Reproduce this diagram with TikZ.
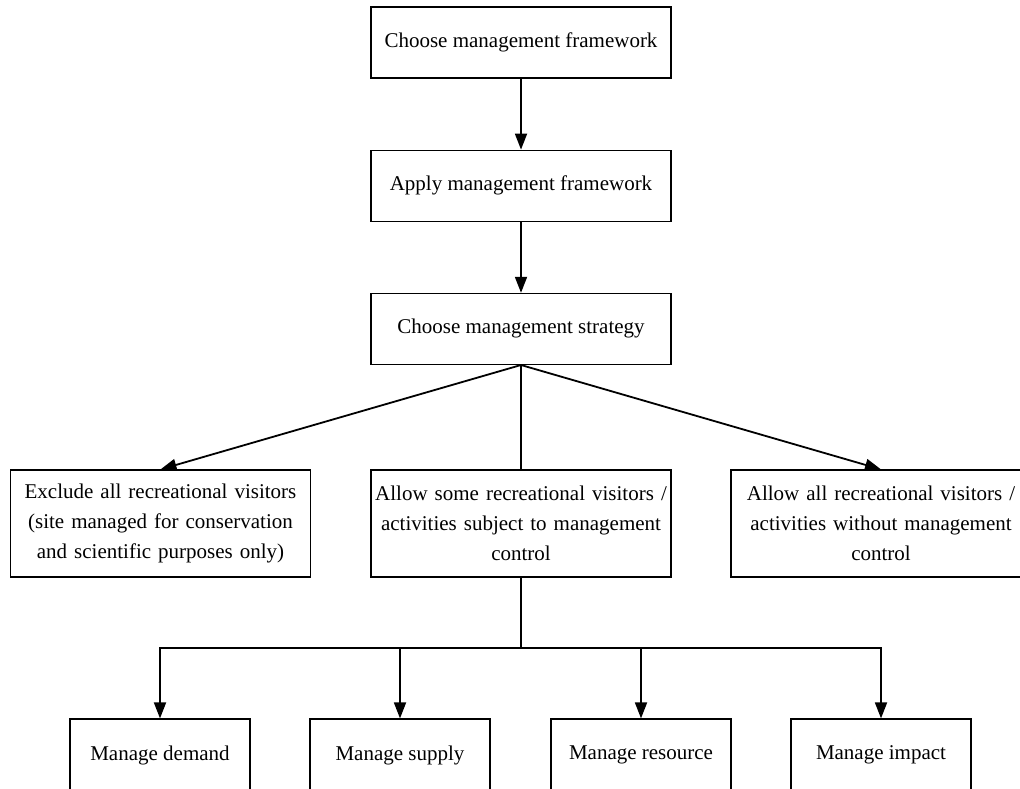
\documentclass[tikz,border=0pt]{standalone}
\usepackage{fontspec}
\setmainfont{Liberation Serif}
\usetikzlibrary{positioning,arrows.meta}
\tikzset{
  mgBox/.style={
    draw,
    line width=0.6pt,
    align=center,
    inner sep=2pt,
    font=\fontsize{10.5pt}{15pt}\selectfont
  },
  mgTop/.style={
    mgBox,
    minimum width=150pt,
    minimum height=35.5pt
  },
  mgOption/.style={
    mgBox,
    text width=146pt,
    minimum height=53.5pt
  },
  mgAction/.style={
    mgBox,
    minimum width=90pt,
    minimum height=36pt
  },
  mgLine/.style={
    line width=0.9pt
  },
  mgArrow/.style={
    mgLine,
    -{Triangle[width=6pt,length=8pt]}
  }
}
\begin{document}
\begin{tikzpicture}[x=0.5pt, y=-0.5pt, node distance=35.5pt]
  \useasboundingbox (0,0) rectangle (1020,788);

  % planning steps
  \node (choose) [mgTop] at (521,42.5) {Choose management framework};
  \node (apply) [mgTop, below=of choose] {Apply management framework};
  \node (strategy) [mgTop, below=of apply] {Choose management strategy};

  % strategy options
  \node (exclude) [mgOption] at (160.5,523.5) {
    Exclude all recreational visitors\\
    (site managed for conservation\\
    and scientific purposes only)
  };
  \node (some) [mgOption] at (521,523.5) {
    Allow some recreational visitors /\\
    activities subject to management\\
    control
  };
  \node (all) [mgOption] at (881,523.5) {
    Allow all recreational visitors /\\
    activities without management\\
    control
  };

  % management actions
  \node (demand) [mgAction] at (160,755) {Manage demand};
  \node (supply) [mgAction] at (400,755) {Manage supply};
  \node (resource) [mgAction] at (641,755) {Manage resource};
  \node (impact) [mgAction] at (881,755) {Manage impact};
  \coordinate (bus) at (521,648);

  \draw [mgArrow] (choose) -- (apply);
  \draw [mgArrow] (apply) -- (strategy);
  \draw [mgArrow] (strategy.south) -- (exclude.north);
  \draw [mgLine] (strategy.south) -- (some.north);
  \draw [mgArrow] (strategy.south) -- (all.north);
  \draw [mgLine] (some.south) -- (bus);
  \draw [mgArrow] (bus) -| (demand.north);
  \draw [mgArrow] (bus) -| (supply.north);
  \draw [mgArrow] (bus) -| (resource.north);
  \draw [mgArrow] (bus) -| (impact.north);
\end{tikzpicture}
\end{document}
